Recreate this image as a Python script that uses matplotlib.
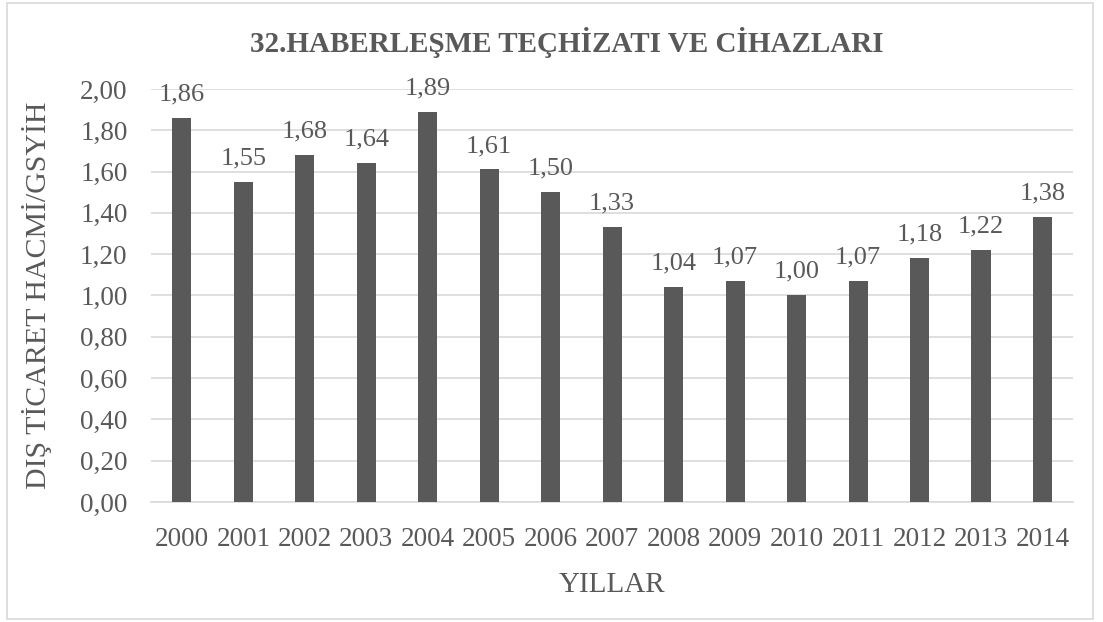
import matplotlib
matplotlib.use("Agg")
import matplotlib.pyplot as plt
import numpy as np

# data
years = ['2000', '2001', '2002', '2003', '2004', '2005', '2006', '2007',
         '2008', '2009', '2010', '2011', '2012', '2013', '2014']
values = [1.86, 1.55, 1.68, 1.64, 1.89, 1.61, 1.50, 1.33,
          1.04, 1.07, 1.00, 1.07, 1.18, 1.22, 1.38]
yticks = [0.0, 0.2, 0.4, 0.6, 0.8, 1.0, 1.2, 1.4, 1.6, 1.8, 2.0]

plt.rcParams['font.family'] = ['Liberation Serif', 'DejaVu Serif']
txt = '#595959'

fig = plt.figure(figsize=(11.03, 6.22), dpi=100)
ax = fig.add_axes([0.137, 0.193, 0.836, 0.664])

x = np.arange(len(years))
ax.bar(x, values, width=0.31, color='#595959', zorder=3)

for xi, v in zip(x, values):
    ax.annotate(('%.2f' % v).replace('.', ','), (xi, v), xytext=(0, 9),
                textcoords='offset points', ha='center', va='bottom',
                fontsize=19, color=txt, zorder=4)

ax.set_xlim(-0.5, len(years) - 0.5)
ax.set_ylim(0, 2.0)
ax.set_yticks(yticks)
ax.set_yticklabels([('%.2f' % t).replace('.', ',') for t in yticks])
ax.set_xticks(x)
ax.set_xticklabels(years)
ax.tick_params(length=0, labelsize=19.5, labelcolor=txt)
ax.tick_params(axis='x', pad=18)
ax.tick_params(axis='y', pad=17)
ax.grid(axis='y', color='#d9d9d9', linewidth=1.2, zorder=0)
for s in ['top', 'right', 'left']:
    ax.spines[s].set_visible(False)
ax.spines['bottom'].set_color('#d9d9d9')
ax.spines['bottom'].set_linewidth(1.2)

ax.set_ylabel('DIŞ TİCARET HACMİ/GSYİH', fontsize=21.5, color=txt)
ax.yaxis.set_label_coords(-0.124, 0.5)
ax.set_xlabel('YILLAR', fontsize=21, color=txt)
ax.xaxis.set_label_coords(0.5, -0.201)
ax.xaxis.label.set_va('center')
ax.yaxis.label.set_va('center')
fig.text(0.514, 0.932, '32.HABERLEŞME TEÇHİZATI VE CİHAZLARI', ha='center', va='center',
         fontsize=21, fontweight='bold', color=txt)

# outer border
fig.patches.append(plt.Rectangle((0.006, 0.005), 0.985, 0.99, transform=fig.transFigure,
                                 fill=False, edgecolor='#d9d9d9', linewidth=1.2))

fig.savefig('out.png', dpi=100)
